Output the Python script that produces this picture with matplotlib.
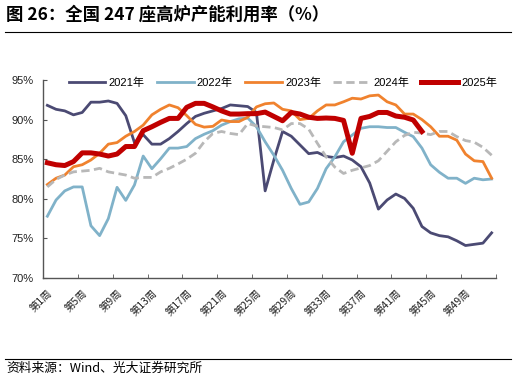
import numpy as np
import matplotlib.pyplot as plt
from matplotlib.lines import Line2D

plt.rcParams['font.family'] = ['Liberation Sans', 'Noto Sans CJK SC', 'DejaVu Sans']

# weekly blast furnace utilisation (%)
weeks = np.arange(1, 53)
week_labels = [f'第{w}周' for w in range(1, 53, 4)]

w2021 = [91.8, 91.3, 91.1, 90.6, 90.9, 92.2, 92.2, 92.35, 92.05, 90.5,
         87.1, 88.1, 86.9, 86.9, 87.6, 88.5, 89.5, 90.4, 90.8, 91.1,
         91.4, 91.85, 91.75, 91.65, 90.9, 81.0, 84.9, 88.5, 87.9, 86.8,
         85.7, 85.85, 85.35, 85.2, 85.4, 84.9, 84.05, 82.0, 78.7, 79.85,
         80.6, 80.05, 78.8, 76.5, 75.7, 75.35, 75.2, 74.7, 74.1, 74.25,
         74.4, 75.7]
w2022 = [77.8, 79.85, 81.0, 81.5, 81.5, 76.6, 75.35, 77.5, 81.45, 79.8,
         81.75, 85.4, 83.8, 85.05, 86.4, 86.4, 86.6, 87.6, 88.15, 88.6,
         89.3, 89.75, 90.1, 90.2, 89.1, 87.2, 85.5, 83.6, 81.3, 79.3,
         79.6, 81.3, 83.8, 85.3, 87.2, 88.05, 88.9, 89.1, 89.1, 89.0,
         89.0, 88.4, 87.85, 86.4, 84.3, 83.35, 82.6, 82.6, 81.95, 82.6,
         82.4, 82.5]
w2023 = [81.8, 82.6, 83.0, 84.05, 84.3, 84.9, 85.75, 86.9, 87.1, 87.9,
         88.5, 89.3, 90.6, 91.3, 91.85, 91.5, 90.5, 89.4, 89.05, 89.15,
         89.95, 89.75, 89.75, 90.3, 91.6, 92.0, 92.1, 91.3, 91.1, 90.0,
         90.15, 91.1, 91.85, 91.85, 92.25, 92.7, 92.6, 93.0, 93.1, 92.25,
         91.85, 90.7, 90.7, 90.0, 89.1, 87.9, 87.9, 87.4, 85.65, 84.8,
         84.7, 82.6]
w2024 = [81.5, 82.45, 83.0, 83.4, 83.5, 83.6, 83.85, 83.4, 83.2, 83.0,
         82.6, 82.7, 82.7, 83.4, 83.85, 84.4, 85.0, 85.75, 87.2, 88.25,
         88.5, 88.25, 88.1, 89.5, 89.2, 89.1, 89.0, 88.7, 89.5, 89.5,
         88.8, 87.0, 85.3, 84.0, 83.2, 83.6, 83.9, 84.2, 84.8, 86.0,
         87.2, 88.0, 88.4, 88.3, 88.1, 88.5, 88.5, 87.85, 87.35, 87.15,
         86.5, 85.5]
w2025 = [84.55, 84.3, 84.2, 84.7, 85.8, 85.8, 85.65, 85.4, 85.65, 86.6,
         86.6, 88.6, 89.1, 89.65, 90.15, 90.15, 91.55, 92.05, 92.05, 91.6,
         91.1, 90.7, 90.7, 90.75, 90.75, 90.95, 90.4, 89.85, 90.9, 90.7,
         90.3, 90.15, 90.2, 90.15, 89.9, 85.75, 90.15, 90.4, 90.9, 90.9,
         90.45, 90.3, 89.95, 88.5]

W, H = 516, 379
fig = plt.figure(figsize=(W / 100, H / 100), dpi=100)
ax = fig.add_axes([43 / W, 1 - 278 / H, 453 / W, 198 / H])

ax.plot(weeks, w2021, color='#4b4a73', lw=2.0, label='2021年')
ax.plot(weeks, w2022, color='#80b2c9', lw=2.0, label='2022年')
ax.plot(weeks, w2023, color='#f0822e', lw=2.0, label='2023年')
ax.plot(weeks, w2024, color='#b8b8b8', lw=2.0, ls=(0, (3, 1.6)), label='2024年')
ax.plot(weeks[:len(w2025)], w2025, color='#c00000', lw=3.6, label='2025年')

ax.set_xlim(0.5, 52.5)
ax.set_ylim(70, 95)
ax.set_yticks(np.arange(70, 96, 5))
ax.set_yticklabels([f'{v}%' for v in range(70, 96, 5)], fontsize=8, color='#222222')
ax.set_xticks(np.arange(1, 53, 4))
ax.set_xticklabels(week_labels, fontsize=7.5, color='#222222',
                   family=['Noto Sans CJK SC', 'DejaVu Sans'])
ax.set_xticks(np.arange(0.5, 53, 4), minor=True)
plt.setp(ax.get_xticklabels(), rotation=45, ha='right', va='top',
         rotation_mode='anchor')
ax.tick_params(axis='x', which='major', length=0, pad=7)
ax.tick_params(axis='x', which='minor', length=3, direction='in', color='#555555')
ax.tick_params(axis='y', length=3, direction='in', pad=7, color='#555555')

for side in ['top', 'right']:
    ax.spines[side].set_visible(False)
for side in ['left', 'bottom']:
    ax.spines[side].set_color('#555555')
    ax.spines[side].set_linewidth(1.0)

ax.legend(loc='center', bbox_to_anchor=(283 / W, 1 - 83 / H),
          bbox_transform=fig.transFigure, ncol=5, frameon=False,
          fontsize=8, handlelength=3.3, handletextpad=0.3,
          columnspacing=1.1, borderpad=0)

fig.text(6 / W, 1 - 15 / H, '图 26：全国 247 座高炉产能利用率（%）',
         fontsize=12.5, fontweight='bold', va='center',
         family=['Noto Sans CJK SC', 'DejaVu Sans'])
fig.add_artist(Line2D([5 / W, 511 / W], [1 - 32 / H] * 2, color='black',
                      lw=0.8, transform=fig.transFigure))
fig.add_artist(Line2D([5 / W, 511 / W], [1 - 359 / H] * 2, color='black',
                      lw=0.8, transform=fig.transFigure))
fig.text(6 / W, 1 - 368 / H, '资料来源：Wind、光大证券研究所', fontsize=9.2,
         va='center', family=['Noto Sans CJK SC', 'DejaVu Sans'])

fig.savefig('out.png', dpi=100)
